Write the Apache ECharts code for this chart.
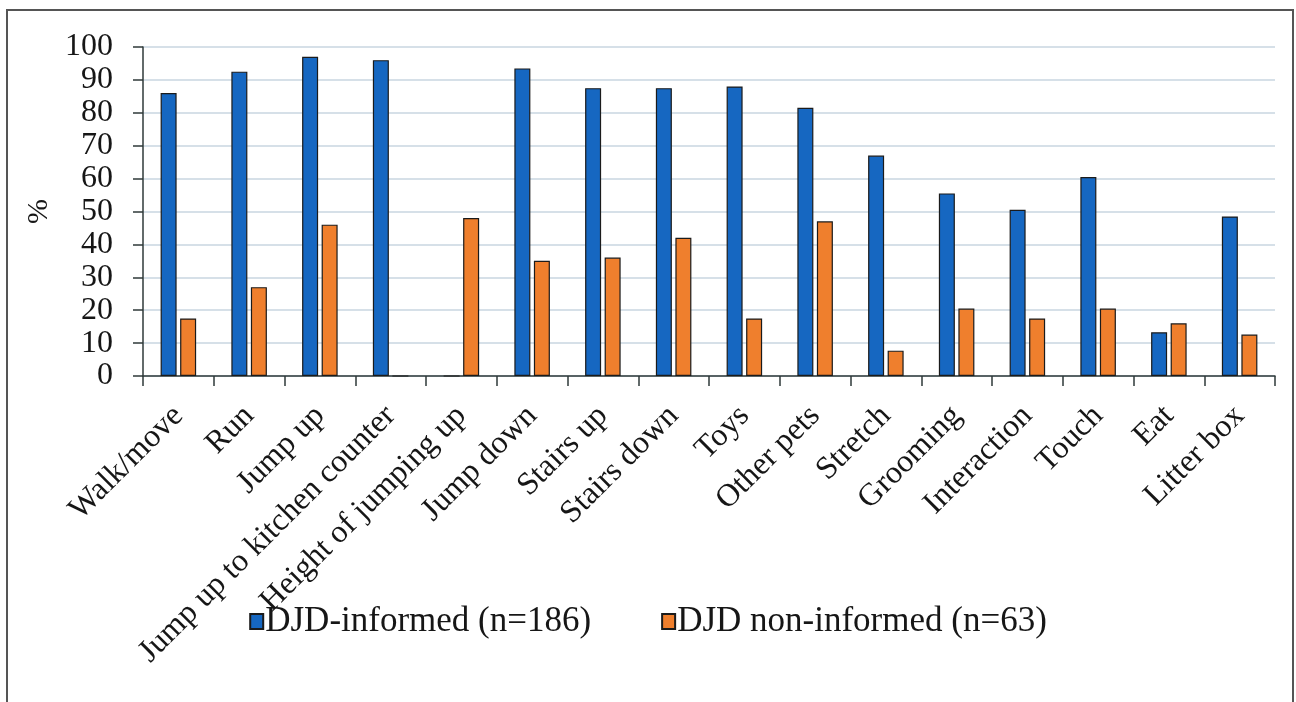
<!DOCTYPE html>
<html>
<head>
<meta charset="utf-8">
<title>DJD-informed vs non-informed owners</title>
<script src="https://cdn.jsdelivr.net/npm/echarts@6/dist/echarts.min.js"></script>
<style>
  html, body { margin: 0; padding: 0; background: #fff; }
  #chart { width: 1296px; height: 702px; }
</style>
</head>
<body>
<div id="chart"></div>
<script>
// Activity categories along the x axis
const categories = [
  'Walk/move', 'Run', 'Jump up', 'Jump up to kitchen counter',
  'Height of jumping up', 'Jump down', 'Stairs up', 'Stairs down',
  'Toys', 'Other pets', 'Stretch', 'Grooming', 'Interaction',
  'Touch', 'Eat', 'Litter box'
];

// Percentage of owners reporting a change, per group
const informed = [86, 92.5, 97, 96, 0, 93.5, 87.5, 87.5, 88, 81.5, 67, 55.5, 50.5, 60.5, 13.3, 48.5];
const nonInformed = [17.5, 27, 46, 0, 48, 35, 36, 42, 17.5, 47, 7.7, 20.5, 17.5, 20.5, 16, 12.6];

const seriesNames = ['DJD-informed (n=186)', 'DJD non-informed (n=63)'];
const yTicks = { min: 0, max: 100, interval: 10 };

const FONT = '"Liberation Serif", "DejaVu Serif", serif';
const INK = '#161616';

const chart = echarts.init(document.getElementById('chart'), null, { renderer: 'canvas' });

chart.setOption({
  animation: false,
  backgroundColor: '#ffffff',
  textStyle: { fontFamily: FONT, color: INK },
  graphic: [{
    type: 'rect',
    shape: { x: 7, y: 10, width: 1286, height: 710 },
    style: { fill: 'none', stroke: '#555', lineWidth: 2 },
    silent: true
  }],
  legend: {
    data: seriesNames,
    left: 'center',
    top: 599,
    icon: 'rect',
    itemWidth: 13,
    itemHeight: 15,
    itemGap: 70,
    textStyle: { fontFamily: FONT, fontSize: 35, color: INK, padding: [0, 0, 0, -3] }
  },
  grid: { left: 143, right: 21, top: 47, bottom: 326 },
  xAxis: {
    type: 'category',
    data: categories,
    boundaryGap: true,
    axisLine: { lineStyle: { color: '#2f3a3a', width: 1.5 } },
    axisTick: { show: true, inside: false, length: 10, alignWithLabel: false, lineStyle: { color: '#2f3a3a', width: 1.5 } },
    axisLabel: {
      interval: 0,
      rotate: 45,
      margin: 35,
      fontFamily: FONT,
      fontSize: 32,
      color: INK
    }
  },
  yAxis: {
    type: 'value',
    min: yTicks.min,
    max: yTicks.max,
    interval: yTicks.interval,
    name: '%',
    nameLocation: 'middle',
    nameRotate: 90,
    nameGap: 88,
    nameTextStyle: { fontFamily: FONT, fontSize: 30, color: INK },
    axisLine: { show: true, lineStyle: { color: '#2f3a3a', width: 1.5 } },
    axisTick: { show: true, inside: false, length: 10, lineStyle: { color: '#2f3a3a', width: 1.5 } },
    axisLabel: { margin: 30, fontFamily: FONT, fontSize: 32, color: INK },
    splitLine: { show: true, lineStyle: { color: '#d6e0e8', width: 2 } }
  },
  series: [
    {
      name: seriesNames[0],
      type: 'bar',
      data: informed,
      barWidth: 16,
      barGap: '22%',
      itemStyle: { color: '#1667c1', borderColor: '#1b1b1b', borderWidth: 1.2 }
    },
    {
      name: seriesNames[1],
      type: 'bar',
      data: nonInformed,
      barWidth: 16,
      itemStyle: { color: '#ef7f2d', borderColor: '#1b1b1b', borderWidth: 1.2 }
    }
  ]
});
</script>
</body>
</html>
